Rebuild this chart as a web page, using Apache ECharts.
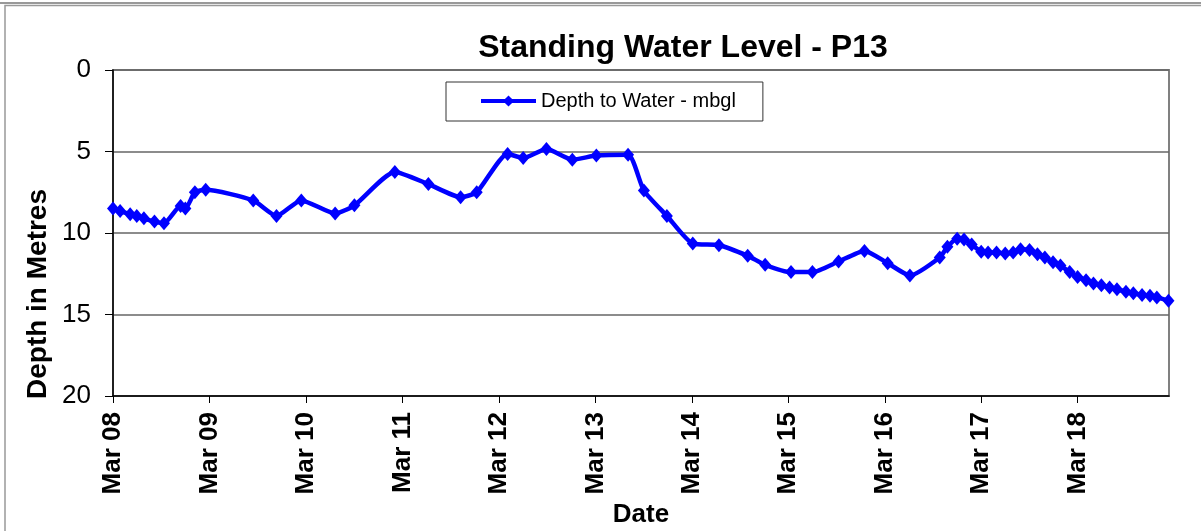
<!DOCTYPE html>
<html>
<head>
<meta charset="utf-8">
<script src="https://cdn.jsdelivr.net/npm/echarts@6/dist/echarts.min.js"></script>
<style>
  html, body { margin: 0; padding: 0; background: #fff; }
  #chart_swl { width: 1201px; height: 531px; }
</style>
</head>
<body>
<div id="chart_swl"></div>
<script>
  // sample dates and depth to water (mbgl)
  const sampleDates = [
    '2008-03-01', '2008-03-28', '2008-05-05', '2008-05-30', '2008-06-26', '2008-08-05', '2008-09-10',
    '2008-11-12', '2008-11-30', '2009-01-05', '2009-02-15', '2009-08-14', '2009-11-10', '2010-02-12',
    '2010-06-20', '2010-09-01', '2011-02-01', '2011-06-08', '2011-10-08', '2011-12-08', '2012-04-03',
    '2012-06-01', '2012-08-28', '2012-12-04', '2013-03-05', '2013-07-03', '2013-09-01', '2013-11-27',
    '2014-03-05', '2014-06-12', '2014-09-29', '2014-12-04', '2015-03-12', '2015-06-01', '2015-09-08',
    '2015-12-15', '2016-03-12', '2016-06-04', '2016-09-25', '2016-10-24', '2016-11-30', '2016-12-26',
    '2017-01-24', '2017-03-01', '2017-03-27', '2017-04-28', '2017-05-31', '2017-06-30', '2017-07-28',
    '2017-08-31', '2017-09-30', '2017-10-28', '2017-11-28', '2017-12-26', '2018-01-30', '2018-03-01',
    '2018-04-02', '2018-04-30', '2018-05-30', '2018-06-30', '2018-07-28', '2018-08-31', '2018-09-28',
    '2018-10-31', '2018-11-30', '2018-12-26', '2019-02-08'
  ];
  const depthToWater = [
    8.5, 8.65, 8.85, 8.95, 9.1, 9.3, 9.4,
    8.35, 8.5, 7.5, 7.35, 8.0, 8.95, 8.0,
    8.8, 8.3, 6.25, 7.0, 7.8, 7.5, 5.15,
    5.4, 4.85, 5.5, 5.25, 5.2, 7.4, 8.95,
    10.65, 10.75, 11.4, 11.95, 12.4, 12.4, 11.75,
    11.1, 11.85, 12.6, 11.5, 10.85, 10.35, 10.4,
    10.7, 11.15, 11.2, 11.2, 11.25, 11.2, 11.0,
    11.05, 11.3, 11.5, 11.8, 12.0, 12.4, 12.7,
    12.9, 13.1, 13.2, 13.35, 13.45, 13.6, 13.7,
    13.8, 13.85, 13.95, 14.15
  ];
  const startDate = '2008-03-01';
  const endDate = '2019-02-10';
  const yTicks = [0, 5, 10, 15, 20];

  // x axis counts years since Mar 08 so ticks fall on each March
  const YEAR_MS = 365.25 * 864e5;
  const t0 = Date.parse(startDate);
  const toYears = d => (Date.parse(d) - t0) / YEAR_MS;
  const points = sampleDates.map((d, i) => [toYears(d), depthToWater[i]]);

  const font = "'Liberation Sans', Arial, sans-serif";

  let chart = echarts.init(document.getElementById('chart_swl'));
  chart.setOption({
    animation: false,
    backgroundColor: '#fff',
    title: {
      text: 'Standing Water Level - P13',
      left: 678,
      textAlign: 'center',
      top: 27,
      textStyle: { fontFamily: font, fontSize: 32, fontWeight: 'bold', color: '#000' }
    },
    legend: {
      left: 446,
      top: 82,
      padding: [9, 27, 10, 33],
      borderColor: '#333',
      borderWidth: 1,
      backgroundColor: '#fff',
      itemWidth: 55,
      itemHeight: 14,
      itemGap: 4,
      lineStyle: { width: 4 },
      textStyle: { fontFamily: font, fontSize: 20, color: '#000' },
      data: ['Depth to Water - mbgl']
    },
    grid: {
      left: 113,
      right: 32,
      top: 70,
      bottom: 135,
      outerBoundsMode: 'none',
      containLabel: false,
      show: true,
      borderColor: '#808080',
      borderWidth: 2
    },
    xAxis: {
      type: 'value',
      min: 0,
      max: toYears(endDate),
      interval: 1,
      name: 'Date',
      nameLocation: 'middle',
      nameGap: 106,
      nameTextStyle: { fontFamily: font, fontSize: 26, fontWeight: 'bold', color: '#000' },
      axisLine: { show: true, onZero: false, lineStyle: { color: '#000', width: 1.5 } },
      axisTick: { show: true, length: 7, lineStyle: { color: '#000' } },
      axisLabel: {
        rotate: 90,
        margin: 16,
        showMaxLabel: false,
        fontFamily: font,
        fontSize: 26,
        fontWeight: 'bold',
        color: '#000',
        formatter: v => 'Mar ' + String(8 + Math.round(v)).padStart(2, '0')
      },
      splitLine: { show: false }
    },
    yAxis: {
      type: 'value',
      inverse: true,
      min: yTicks[0],
      max: yTicks[yTicks.length - 1],
      interval: 5,
      axisLine: { show: true, lineStyle: { color: '#000', width: 1.5 } },
      axisTick: { show: true, length: 8, lineStyle: { color: '#000' } },
      axisLabel: { margin: 22, fontFamily: font, fontSize: 26, color: '#000' },
      splitLine: { show: true, lineStyle: { color: '#666', width: 1.5 } }
    },
    graphic: [
      // outer frame of the sheet
      { type: 'line', shape: { x1: 0, y1: 3, x2: 1201, y2: 3 }, style: { stroke: '#777', lineWidth: 1.5 } },
      { type: 'rect', shape: { x: 5, y: 5.5, width: 1300, height: 600 }, style: { fill: 'none', stroke: '#999', lineWidth: 1.5 } },
      // y axis title sits centred on the chart height, not the plot
      {
        type: 'text',
        x: 38,
        y: 294,
        rotation: Math.PI / 2,
        style: {
          text: 'Depth in Metres',
          align: 'center',
          verticalAlign: 'middle',
          fill: '#000',
          font: "bold 28px 'Liberation Sans', Arial, sans-serif"
        }
      }
    ],
    series: [
      {
        name: 'Depth to Water - mbgl',
        type: 'line',
        data: points,
        smooth: 0.2,
        color: '#0000ff',
        lineStyle: { width: 4.5, color: '#0000ff' },
        symbol: 'diamond',
        symbolSize: [12, 14],
        itemStyle: { color: '#0000ff' },
        z: 5
      }
    ]
  });
</script>
</body>
</html>
